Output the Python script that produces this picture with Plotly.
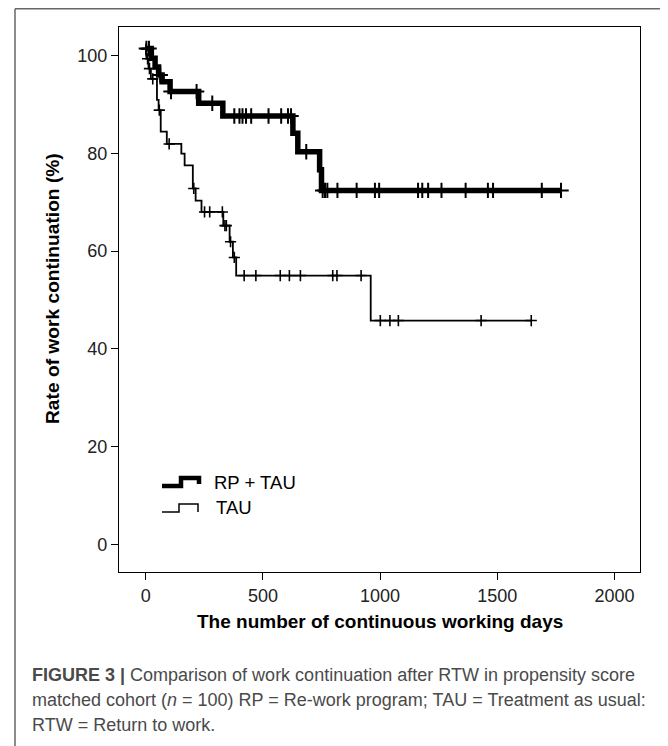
import numpy as np
import plotly.graph_objects as go

# ---------------- data ----------------
rp_times = [0, 24, 40, 55, 70, 104, 226, 329, 628, 649, 742, 750]
rp_surv = [101.4, 99.4, 97.6, 96.0, 94.6, 92.6, 90.2, 87.6, 84.1, 80.3, 76.6, 72.4]
rp_end = 1772
rp_censor = [3, 14, 62, 108, 217, 284, 378, 400, 413, 428, 450, 524, 578, 607, 620,
             685, 755, 765, 775, 818, 900, 978, 996, 1162, 1180, 1205, 1262, 1365,
             1460, 1482, 1690, 1772]

tau_times = [0, 3, 12, 22, 48, 55, 64, 90, 152, 166, 201, 213, 238, 331, 358, 372, 386, 960]
tau_surv = [101.3, 99.3, 97.3, 95.2, 90.9, 88.8, 84.4, 81.9, 79.9, 77.5, 72.8, 70.3,
            68.0, 65.2, 61.9, 58.7, 55.0, 45.8]
tau_end = 1645
tau_censor = [1, 8, 16, 30, 58, 100, 205, 251, 273, 327, 338, 344, 362, 378, 420, 470,
              574, 613, 660, 798, 816, 919, 1001, 1042, 1078, 1431, 1645]

x_ticks = [0, 500, 1000, 1500, 2000]
y_ticks = [0, 20, 40, 60, 80, 100]
x_range = [-114, 2109]
y_range = [-5.6, 105.8]

legend_labels = ["RP + TAU", "TAU"]
x_title = "The number of continuous working days"
y_title = "Rate of work continuation (%)"
caption_lines = [
    "<b>FIGURE 3 |</b> Comparison of work continuation after RTW in propensity score",
    "matched cohort (<i>n</i> = 100) RP = Re-work program; TAU = Treatment as usual:",
    "RTW = Return to work.",
]

# ---------------- layout geometry ----------------
# The page body adds an 8px offset, so positions measured on the reference
# (in window pixels) are shifted by OFF to get figure pixels.
W, H = 668, 746
OFF = 8
REF_L, REF_T, REF_R, REF_B = 119, 27, 640, 572   # plot box in window pixels
ML, MT = REF_L - OFF, REF_T - OFF
MR, MB = W - (REF_R - OFF), H - (REF_B - OFF)
PW, PH = W - ML - MR, H - MT - MB
FONT = "Liberation Sans, Arial, Helvetica, sans-serif"


def px(xw):
    return (xw - REF_L) / PW


def py(yw):
    return (REF_B - yw) / PH


def step_at(times, surv, t):
    idx = np.searchsorted(np.array(times), np.array(t), side="right") - 1
    return np.array(surv)[idx]


fig = go.Figure()


def add_curve(times, surv, end, censor, width, msize, mwidth):
    xs = list(times) + [end]
    ys = list(surv) + [surv[-1]]
    fig.add_trace(go.Scatter(x=xs, y=ys, mode="lines", line=dict(shape="hv", color="black", width=width),
                             showlegend=False, hoverinfo="skip"))
    fig.add_trace(go.Scatter(x=censor, y=step_at(times, surv, censor), mode="markers",
                             marker=dict(symbol="cross-thin", size=msize, line=dict(color="black", width=mwidth)),
                             showlegend=False, hoverinfo="skip"))


add_curve(tau_times, tau_surv, tau_end, tau_censor, 1.8, 8, 1.6)
add_curve(rp_times, rp_surv, rp_end, rp_censor, 5.5, 11, 2)

shapes = []
# outer figure frame (top and left only)
shapes.append(dict(type="line", xref="paper", yref="paper", x0=px(15), x1=px(680), y0=py(8.8), y1=py(8.8),
                   line=dict(color="#666666", width=1.5)))
shapes.append(dict(type="line", xref="paper", yref="paper", x0=px(15), x1=px(15), y0=py(8.8), y1=py(760),
                   line=dict(color="#666666", width=1.5)))


def glyph(x0, xm, x1, ylow, ytop, yend, width):
    path = (f"M {px(x0)} {py(ylow)} L {px(xm)} {py(ylow)} L {px(xm)} {py(ytop)} "
            f"L {px(x1)} {py(ytop)} L {px(x1)} {py(yend)}")
    return dict(type="path", xref="paper", yref="paper", path=path, line=dict(color="black", width=width))


shapes.append(glyph(162, 181, 199, 486, 478, 484, 4.5))
shapes.append(glyph(162, 179, 198, 512, 504, 512, 1.5))

annotations = []
annotations.append(dict(text=legend_labels[0], xref="paper", yref="paper", x=px(212), y=py(482),
                        xanchor="left", yanchor="middle", showarrow=False,
                        font=dict(family=FONT, size=18.5, color="black")))
annotations.append(dict(text=legend_labels[1], xref="paper", yref="paper", x=px(214), y=py(507),
                        xanchor="left", yanchor="middle", showarrow=False,
                        font=dict(family=FONT, size=18.5, color="black")))
annotations.append(dict(text=f"<b>{x_title}</b>", xref="paper", yref="paper", x=px(380), y=py(622),
                        xanchor="center", yanchor="middle", showarrow=False,
                        font=dict(family=FONT, size=19, color="black")))
annotations.append(dict(text=f"<b>{y_title}</b>", xref="paper", yref="paper", x=px(52), y=py(289),
                        xanchor="center", yanchor="middle", textangle=-90, showarrow=False,
                        font=dict(family=FONT, size=19.2, color="black")))
for i, line in enumerate(caption_lines):
    annotations.append(dict(text=line, xref="paper", yref="paper", x=px(30), y=py(675 + 25 * i),
                            xanchor="left", yanchor="middle", showarrow=False, align="left",
                            font=dict(family=FONT, size=18, color="#4a4a4a")))

fig.update_layout(
    width=W, height=H,
    margin=dict(l=ML, r=MR, t=MT, b=MB, pad=0),
    paper_bgcolor="white", plot_bgcolor="white",
    shapes=shapes, annotations=annotations,
    showlegend=False,
    font=dict(family=FONT, size=18, color="#222222"),
)
axis_style = dict(showgrid=False, zeroline=False, showline=True, mirror=True, linecolor="black",
                  linewidth=1.4, ticks="outside", ticklen=7, tickwidth=1.2, tickcolor="black",
                  tickfont=dict(family=FONT, size=18, color="#222222"))
fig.update_xaxes(range=x_range, tickvals=x_ticks, ticktext=[str(v) for v in x_ticks], **axis_style)
fig.update_yaxes(range=y_range, tickvals=y_ticks, ticktext=[str(v) for v in y_ticks], **axis_style)

fig.write_html("out.html")
